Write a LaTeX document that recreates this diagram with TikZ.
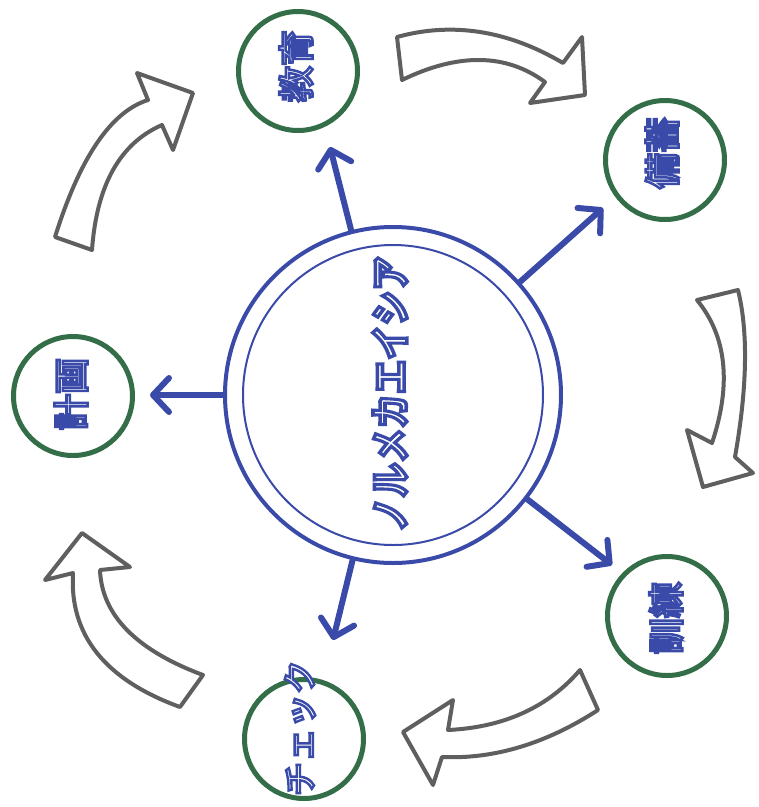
\documentclass[tikz,border=0pt]{standalone}
\usepackage{fontspec}
\usetikzlibrary{arrows.meta}
\newfontfamily\cjkcore{Noto Sans CJK JP}[UprightFont=* Bold, FakeBold=9]
\newfontfamily\cjklbl{Noto Sans CJK JP}[UprightFont=* Medium, FakeBold=7]
\definecolor{cblue}{RGB}{58,74,168}
\definecolor{cgreen}{RGB}{52,110,72}
\definecolor{cgray}{RGB}{95,95,95}
\newcommand\bluestroke{\special{pdf:code 0.227 0.290 0.659 RG}}
\begin{document}
\begin{tikzpicture}[x=1pt,y=-1pt,
  ring/.style={circle, draw=cgreen, line width=5pt, fill=white, minimum size=119pt, inner sep=0pt},
  lbl/.style={text=white, rotate=90, inner sep=0pt, font=\cjklbl\fontsize{36}{36}\selectfont},
  spoke/.style={draw=cblue, line width=6pt, line cap=round, -{Straight Barb[length=16pt,width=34pt,round]}},
  flow/.style={draw=cgray, line width=4pt, line join=round, fill=white}]
\useasboundingbox (0,0) rectangle (759,807);
% centre
\node[circle, draw=cblue, line width=4pt, minimum size=336pt, inner sep=0pt] (core) at (393,395) {};
\node[circle, draw=cblue, line width=2pt, minimum size=300pt, inner sep=0pt] (corein) at (393,395) {};
\node[text=white, rotate=90, inner sep=0pt, font=\cjkcore\fontsize{40}{40}\selectfont] (title) at (390,394) {\bluestroke\scalebox{0.86}[1]{ノルメカエイシア}};
% outer rings
\node[ring] (n1) at (298,71) {};
\node[ring] (n2) at (665,160) {};
\node[ring] (n3) at (667,616) {};
\node[ring] (n4) at (304,739) {};
\node[ring] (n5) at (73,396) {};
\node[lbl] (l1) at (296,66) {\bluestroke 教育};
\node[lbl] (l2) at (662,153) {\bluestroke 備蓄};
\node[lbl] (l3) at (666,618) {\bluestroke 訓練};
\node[lbl, font=\cjklbl\fontsize{34}{34}\selectfont] (l4) at (300,728) {\bluestroke チェック};
\node[lbl] (l5) at (71,394) {\bluestroke 計画};
% spokes
\coordinate (s1) at (330,147);
\coordinate (s2) at (603,208);
\coordinate (s3) at (612,565);
\coordinate (s4) at (333,640);
\coordinate (s5) at (150,395);
\foreach \s in {s1,s2,s3,s4,s5} \draw[spoke] (core) -- (\s);
% cycle arrows
\draw[flow] (55,237) .. controls (80,157.3) and (111,111.7) .. (148,100) -- (137,73) -- (193,93) -- (173,150) -- (162,125) .. controls (120,143.3) and (96.7,185) .. (92,250) -- cycle;
\draw[flow] (397,37) .. controls (452.3,21.7) and (507.7,30.3) .. (563,63) -- (582,37) -- (585,95) -- (530,103) -- (545,82) .. controls (506,53.3) and (458.3,52.7) .. (402,80) -- cycle;
\draw[flow] (738,290) .. controls (748.3,331.7) and (747.3,387.3) .. (735,457) -- (753,473) -- (703,487) -- (687,430) -- (712,443) .. controls (731.7,384) and (726.7,336.3) .. (697,300) -- cycle;
\draw[flow] (580,670) .. controls (548,707.3) and (504,727.3) .. (448,730) -- (453,700) -- (403,732) -- (433,785) -- (442,757) .. controls (494,759.3) and (546,743.7) .. (598,710) -- cycle;
\draw[flow] (203,675) .. controls (136,650) and (101.7,615) .. (100,570) -- (130,567) -- (82,533) -- (45,580) -- (73,573) .. controls (69.3,635) and (105,679.7) .. (180,707) -- cycle;
\end{tikzpicture}
\end{document}
